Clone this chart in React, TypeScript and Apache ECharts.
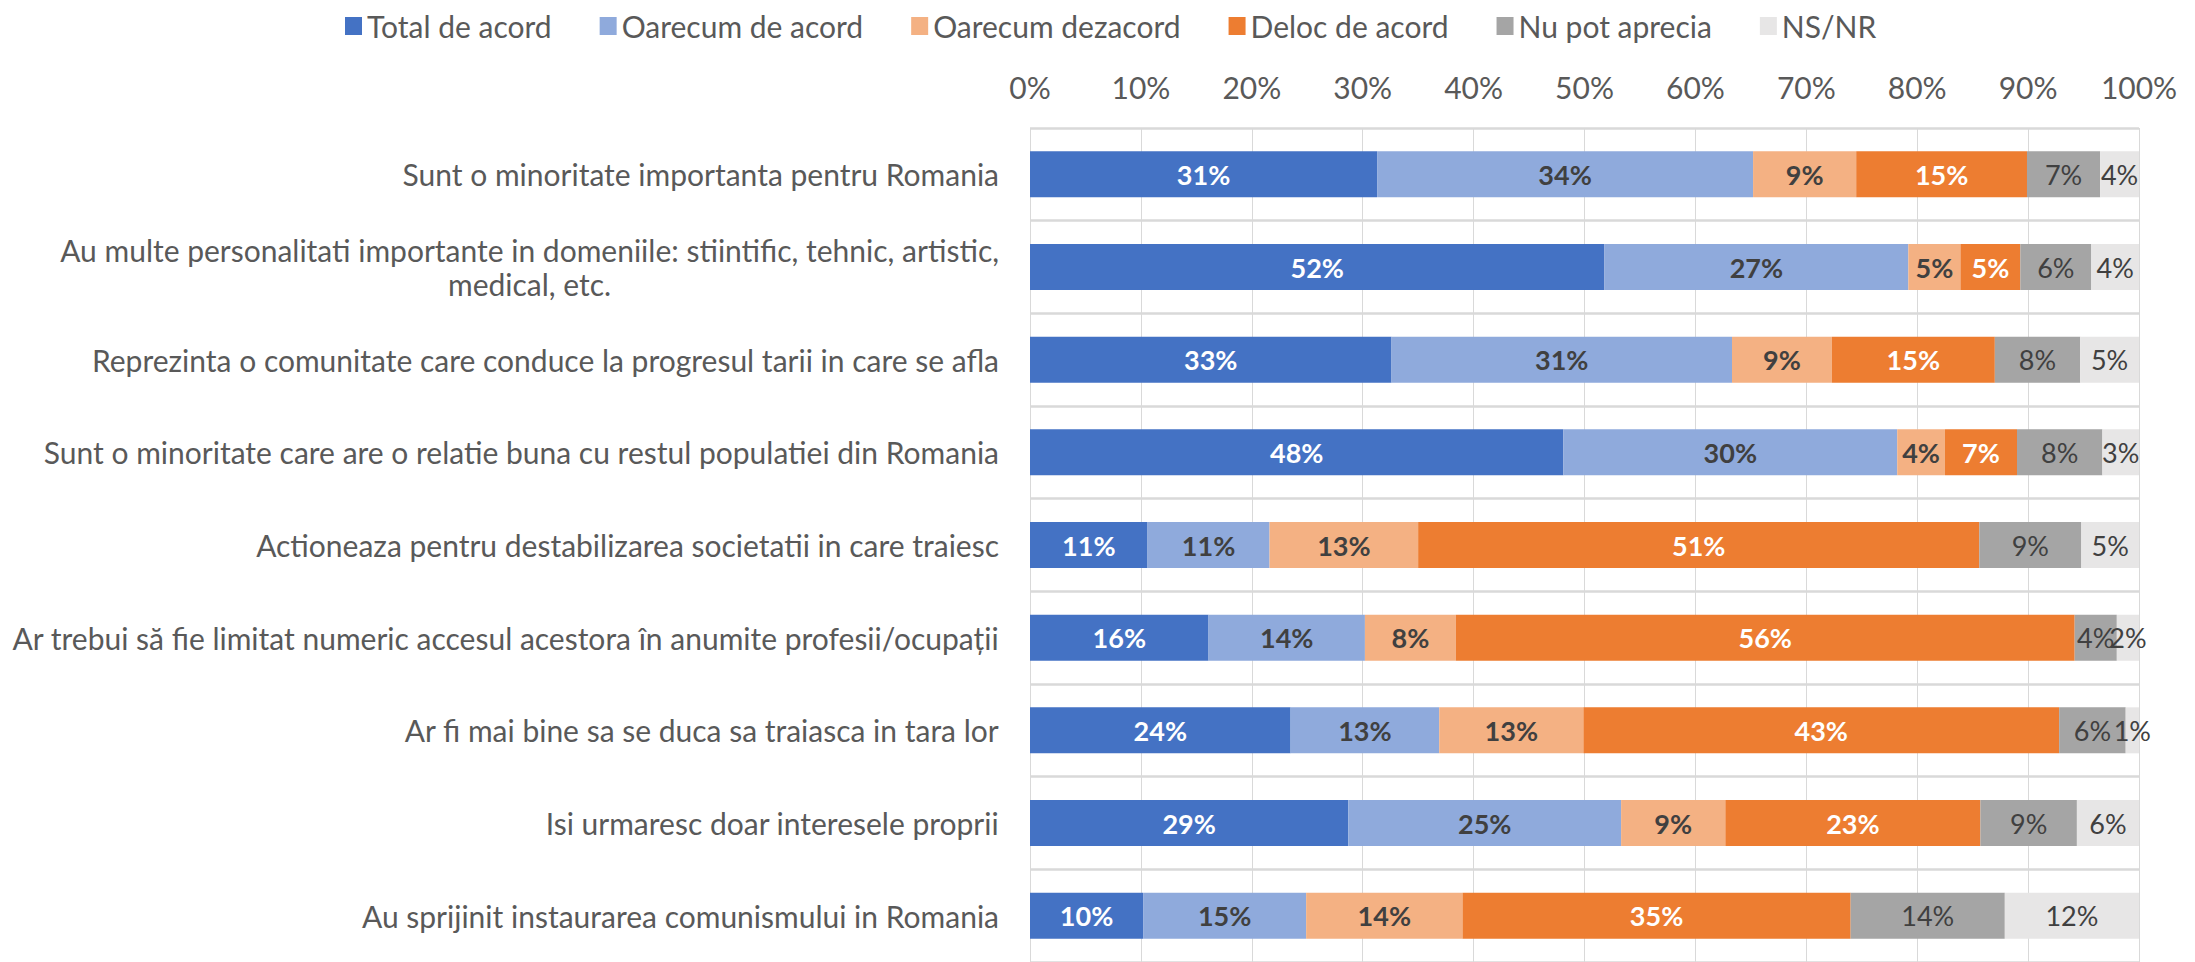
import React, { useEffect, useRef } from "react";
import * as echarts from "echarts";

const categories = [
  "Sunt o minoritate importanta pentru Romania",
  "Au multe personalitati importante in domeniile: stiintific, tehnic, artistic,\nmedical, etc.",
  "Reprezinta o comunitate care conduce la progresul tarii in care se afla",
  "Sunt o minoritate care are o relatie buna cu restul populatiei din Romania",
  "Actioneaza pentru destabilizarea societatii in care traiesc",
  "Ar trebui să fie limitat numeric accesul acestora în anumite profesii/ocupații",
  "Ar fi mai bine sa se duca sa traiasca in tara lor",
  "Isi urmaresc doar interesele proprii",
  "Au sprijinit instaurarea comunismului in Romania",
];

const seriesNames = [
  "Total de acord",
  "Oarecum de acord",
  "Oarecum dezacord",
  "Deloc de acord",
  "Nu pot aprecia",
  "NS/NR",
];

const totalDeAcord = [31.3, 51.8, 32.6, 48.1, 10.6, 16.1, 23.5, 28.7, 10.2];
const oarecumDeAcord = [33.9, 27.4, 30.7, 30.1, 11.0, 14.1, 13.4, 24.6, 14.7];
const oarecumDezacord = [9.3, 4.7, 9.0, 4.3, 13.4, 8.2, 13.0, 9.4, 14.1];
const delocDeAcord = [15.4, 5.4, 14.7, 6.5, 50.6, 55.8, 42.9, 23.0, 35.0];
const nuPotAprecia = [6.6, 6.4, 7.7, 7.7, 9.2, 3.8, 6.0, 8.7, 13.9];
const nsNr = [3.5, 4.3, 5.3, 3.3, 5.2, 2.0, 1.2, 5.6, 12.1];

const xTicks = [0, 10, 20, 30, 40, 50, 60, 70, 80, 90, 100];

const seriesData = [totalDeAcord, oarecumDeAcord, oarecumDezacord, delocDeAcord, nuPotAprecia, nsNr];
const colors = ["#4472C4", "#8FAADC", "#F4B183", "#ED7D31", "#A5A5A5", "#E7E6E6"];
const labelColors = ["#FFFFFF", "#404040", "#404040", "#FFFFFF", "#404040", "#404040"];
const labelBold = [true, true, true, true, false, false];

const FONT = "Lato";
const TEXT = "#595959";

export default function App() {
  const ref = useRef<HTMLDivElement>(null);

  useEffect(() => {
    if (!ref.current) return;
    const chart = echarts.init(ref.current, null, { renderer: "svg" });
    chart.setOption({
      animation: false,
      backgroundColor: "#FFFFFF",
      textStyle: { fontFamily: FONT },
      legend: {
        data: seriesNames,
        left: 340,
        top: 6,
        itemWidth: 17,
        itemHeight: 18,
        itemGap: 48,
        icon: "rect",
        textStyle: { fontFamily: FONT, fontSize: 30, color: TEXT },
      },
      grid: { left: 1030, top: 128, width: 1109, height: 840, containLabel: false },
      xAxis: {
        type: "value",
        position: "top",
        min: 0,
        max: 100,
        interval: 10,
        axisLine: { show: false },
        axisTick: { show: false },
        splitLine: { show: true, lineStyle: { color: "#D9D9D9", width: 1 } },
        axisLabel: {
          fontFamily: FONT,
          fontSize: 30,
          color: TEXT,
          margin: 26,
          formatter: (v: number) => (xTicks.includes(v) ? v + "%" : ""),
        },
      },
      yAxis: {
        type: "category",
        inverse: true,
        data: categories,
        axisLine: { show: false },
        axisTick: { show: false },
        splitLine: { show: true, lineStyle: { color: "#D9D9D9", width: 2.5 } },
        axisLabel: {
          margin: 31,
          fontFamily: FONT,
          fontSize: 30,
          color: TEXT,
          formatter: (v: string) =>
            v
              .split("\n")
              .map((l) => "{c|" + l + "}")
              .join("\n"),
          rich: {
            c: {
              fontFamily: FONT,
              fontSize: 30,
              color: TEXT,
              align: "center",
              lineHeight: 34,
            },
          },
        },
      },
      series: seriesData.map((d, i) => ({
        name: seriesNames[i],
        type: "bar",
        stack: "total",
        barWidth: 46,
        data: d,
        itemStyle: { color: colors[i] },
        label: {
          show: true,
          position: "inside",
          fontFamily: FONT,
          fontSize: 27,
          fontWeight: labelBold[i] ? "bold" : "normal",
          color: labelColors[i],
          formatter: (p: any) => Math.round(p.value) + "%",
        },
      })),
    });
    return () => chart.dispose();
  }, []);

  return (
    <div
      ref={ref}
      style={{ position: "fixed", left: 0, top: 0, width: 2195, height: 962 }}
    />
  );
}
